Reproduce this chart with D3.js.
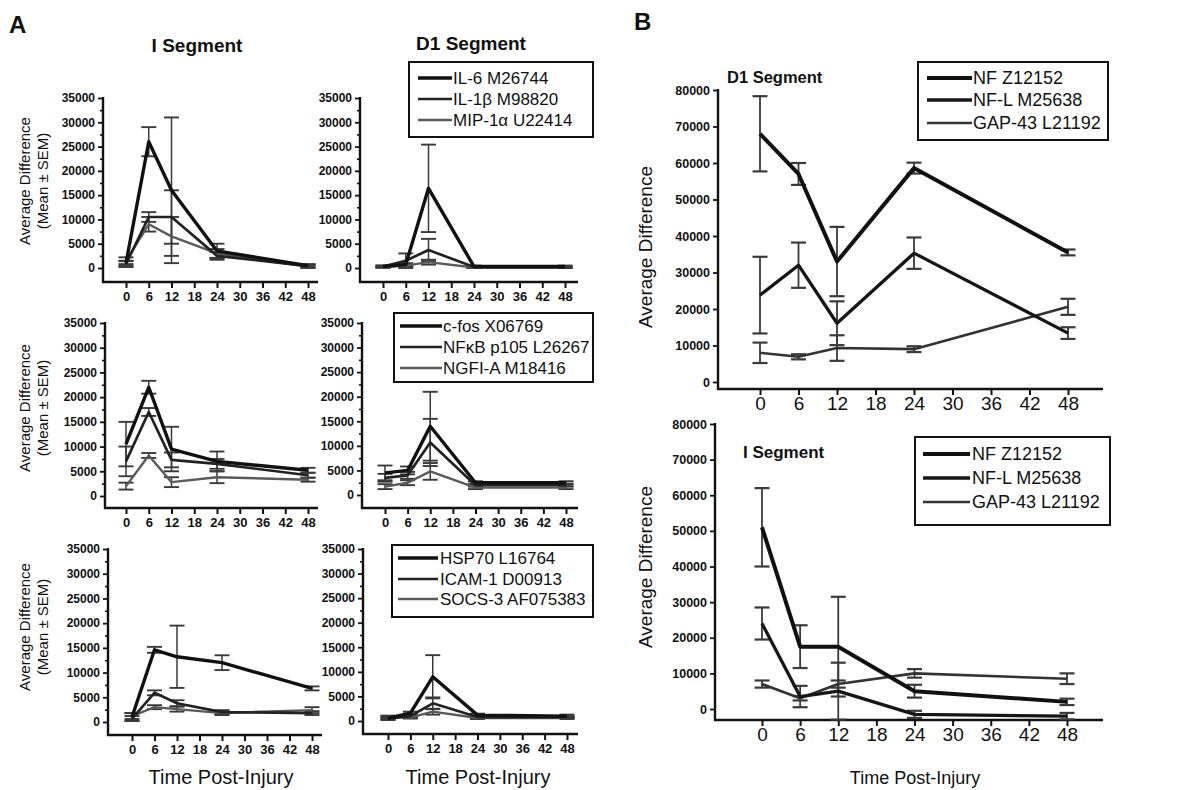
<!DOCTYPE html>
<html>
<head>
<meta charset="utf-8">
<script src="https://cdn.jsdelivr.net/npm/d3@7"></script>
<style>
  body { margin: 0; background: #fff; }
  text { font-family: Arial, "Liberation Sans", Helvetica, sans-serif; fill: #111; }
</style>
</head>
<body>
<svg id="fig"></svg>
<script>
// sampling times (h post-injury) and axis ticks
const times = [0, 6, 12, 24, 48];
const timeTicks = [0, 6, 12, 18, 24, 30, 36, 42, 48];
const aTicks = [0, 5000, 10000, 15000, 20000, 25000, 30000, 35000];
const aMinor = [2500, 7500, 12500, 17500, 22500, 27500, 32500];
const bTicks = [0, 10000, 20000, 30000, 40000, 50000, 60000, 70000, 80000];

// A - cytokines
const il6I = [1000, 26000, 16000, 3500, 500];
const il6ISem = [500, 3000, 15000, 1500, 300];
const il1bI = [800, 10500, 10500, 2500, 400];
const il1bISem = [600, 1000, 5500, 800, 300];
const mip1aI = [1500, 9000, 6500, 3000, 300];
const mip1aISem = [700, 1500, 4000, 900, 300];

const il6D1 = [300, 700, 16400, 300, 300];
const il6D1Sem = [200, 300, 9000, 200, 200];
const il1bD1 = [300, 1500, 3700, 200, 200];
const il1bD1Sem = [200, 1500, 2300, 200, 200];
const mip1aD1 = [200, 500, 1200, 100, 100];
const mip1aD1Sem = [100, 200, 500, 100, 100];

// A - transcription factors
const cfosI = [10500, 22000, 9500, 7000, 5200];
const cfosISem = [4500, 1300, 4500, 2000, 500];
const nfkbI = [7000, 17000, 7300, 6500, 4200];
const nfkbISem = [3000, 800, 1500, 1000, 500];
const ngfiaI = [2000, 8200, 2800, 3800, 3300];
const ngfiaISem = [700, 500, 1000, 1200, 400];

const cfosD1 = [4500, 5000, 14000, 2500, 2500];
const cfosD1Sem = [1500, 800, 7000, 300, 300];
const nfkbD1 = [3500, 4000, 10700, 2000, 2000];
const nfkbD1Sem = [800, 700, 4800, 300, 300];
const ngfiaD1 = [1700, 2500, 4800, 1500, 1500];
const ngfiaD1Sem = [500, 500, 1700, 300, 300];

// A - stress / adhesion
const hsp70I = [1000, 14600, 13200, 12000, 6800];
const hsp70ISem = [800, 600, 6300, 1500, 400];
const icam1I = [700, 5900, 3800, 2000, 1800];
const icam1ISem = [500, 500, 600, 400, 400];
const socs3I = [1200, 3000, 2600, 1800, 2400];
const socs3ISem = [600, 400, 500, 400, 600];

const hsp70D1 = [600, 1600, 9000, 1200, 1000];
const hsp70D1Sem = [300, 300, 4400, 300, 300];
const icam1D1 = [500, 1000, 3600, 800, 800];
const icam1D1Sem = [300, 300, 1200, 200, 200];
const socs3D1 = [800, 700, 1900, 600, 600];
const socs3D1Sem = [300, 200, 600, 200, 200];

// B - neuronal markers
const nfD1 = [68000, 57000, 33000, 58600, 35500];
const nfD1Sem = [10300, 3000, 9500, 1500, 800];
const nflD1 = [23800, 32000, 16100, 35300, 13400];
const nflD1Sem = [10500, 6200, 6000, 4300, 1600];
const gap43D1 = [8000, 6900, 9300, 9000, 20600];
const gap43D1Sem = [2800, 700, 3500, 800, 2200];

const nfI = [51000, 17500, 17500, 5000, 2000];
const nfISem = [11000, 6000, 14000, 1800, 900];
const nflI = [24000, 3500, 5000, -1500, -2000];
const nflISem = [4500, 3000, 8000, 1000, 900];
const gap43I = [7000, 3000, 7000, 10000, 8500];
const gap43ISem = [1000, 600, 1000, 1200, 1500];

const W = 1191, H = 790;
const svg = d3.select('#fig').attr('width', W).attr('height', H);
svg.append('rect').attr('width', W).attr('height', H).attr('fill', '#fff');

const styleA = [{c: '#111', w: 3.4}, {c: '#222', w: 2.7}, {c: '#5a5a5a', w: 2.4}];
const styleB = [{c: '#111', w: 4}, {c: '#161616', w: 3.3}, {c: '#333', w: 2.6}];

function drawPanel(p) {
    const g = svg.append('g');
    const x = d3.scaleLinear().domain([0, 48]).range([p.x0, p.x48]);
    const y = d3.scaleLinear().domain([0, p.yMax]).range([p.yZero, p.yTop]);

    // y axis
    const yAxisG = g.append('g')
        .attr('transform', `translate(${p.axisX},0)`)
        .call(d3.axisLeft(y).tickValues(p.yTicks).tickSize(5).tickPadding(3).tickFormat(d3.format('d')));
    yAxisG.select('.domain').remove();
    yAxisG.attr('font-size', p.yFont).attr('font-weight', 'bold');
    if (p.yMinor) {
        const m = g.append('g')
            .attr('transform', `translate(${p.axisX},0)`)
            .call(d3.axisLeft(y).tickValues(p.yMinor).tickSize(3).tickFormat(''));
        m.select('.domain').remove();
        m.selectAll('line').attr('stroke', '#111').attr('stroke-width', 1.6);
    }
    yAxisG.selectAll('line').attr('stroke', '#111').attr('stroke-width', 1.8);
    g.append('line')
        .attr('x1', p.axisX).attr('x2', p.axisX)
        .attr('y1', p.yTop - 1).attr('y2', p.axisY + 1)
        .attr('stroke', '#111').attr('stroke-width', 2.4);

    // x axis
    const xAxisG = g.append('g')
        .attr('transform', `translate(0,${p.axisY})`)
        .call(d3.axisBottom(x).tickValues(timeTicks).tickSize(6).tickPadding(p.xPad));
    xAxisG.select('.domain').remove();
    xAxisG.attr('font-size', p.xFont).attr('font-weight', p.xWeight);
    xAxisG.selectAll('line').attr('stroke', '#111').attr('stroke-width', 2);
    g.append('line')
        .attr('x1', p.axisX - 1).attr('x2', p.xEnd)
        .attr('y1', p.axisY).attr('y2', p.axisY)
        .attr('stroke', '#111').attr('stroke-width', 2.4);

    // error bars, then lines
    const line = d3.line().x(d => x(d.t)).y(d => y(d.v));
    p.series.forEach(s => {
        const pts = times.map((t, i) => ({t: t, v: s.values[i], e: s.sem[i]}));
        const eb = g.append('g').attr('stroke', '#3a3a3a').attr('stroke-width', p.ebW);
        pts.forEach(d => {
            const cx = x(d.t);
            eb.append('line').attr('x1', cx).attr('x2', cx)
                .attr('y1', y(d.v - d.e)).attr('y2', y(d.v + d.e));
            [d.v - d.e, d.v + d.e].forEach(v => {
                eb.append('line').attr('x1', cx - p.cap / 2).attr('x2', cx + p.cap / 2)
                    .attr('y1', y(v)).attr('y2', y(v)).attr('stroke-width', p.ebW + 0.4);
            });
        });
    });
    p.series.slice().reverse().forEach((s, k) => {
        const st = p.styles[p.series.length - 1 - k];
        g.append('path')
            .datum(times.map((t, i) => ({t: t, v: s.values[i]})))
            .attr('d', line)
            .attr('fill', 'none')
            .attr('stroke', st.c)
            .attr('stroke-width', st.w)
            .attr('stroke-linejoin', 'round');
    });

    // legend
    if (p.legend) {
        const L = p.legend;
        g.append('rect')
            .attr('x', L.x1).attr('y', L.y1)
            .attr('width', L.x2 - L.x1).attr('height', L.y2 - L.y1)
            .attr('fill', '#fff').attr('stroke', '#111').attr('stroke-width', 2);
        p.series.forEach((s, i) => {
            const st = p.styles[i];
            g.append('line')
                .attr('x1', L.lx1).attr('x2', L.lx2)
                .attr('y1', L.rows[i]).attr('y2', L.rows[i])
                .attr('stroke', st.c).attr('stroke-width', st.w);
            g.append('text')
                .attr('x', L.tx).attr('y', L.rows[i])
                .attr('dy', '0.36em')
                .attr('font-size', L.font)
                .text(s.name);
        });
    }

    // title
    if (p.title) {
        g.append('text')
            .attr('x', p.title.x).attr('y', p.title.y)
            .attr('text-anchor', p.title.anchor)
            .attr('font-size', p.title.size)
            .attr('font-weight', 'bold')
            .text(p.title.text);
    }
}

const ser = (name, values, sem) => ({name, values, sem});

const aBase = {yMax: 35000, yTicks: aTicks, yMinor: aMinor, yFont: 12, xFont: 13, xWeight: 'bold', xPad: 4,
               styles: styleA, cap: 15, ebW: 1.5};
const bBase = {yMax: 80000, yTicks: bTicks, yMinor: null, yFont: 12.5, xFont: 19, xWeight: 'normal', xPad: 2,
               styles: styleB, cap: 15, ebW: 1.8};

const cyto = (a, b, c) => [ser('IL-6 M26744', ...a), ser('IL-1\u03b2 M98820', ...b), ser('MIP-1\u03b1 U22414', ...c)];
const tf = (a, b, c) => [ser('c-fos  X06769', ...a), ser('NF\u03baB p105 L26267', ...b), ser('NGFI-A M18416', ...c)];
const stress = (a, b, c) => [ser('HSP70 L16764', ...a), ser('ICAM-1 D00913', ...b), ser('SOCS-3 AF075383', ...c)];
const neuro = (a, b, c) => [ser('NF Z12152', ...a), ser('NF-L M25638', ...b), ser('GAP-43 L21192', ...c)];

const panels = [
    Object.assign({}, aBase, {axisX: 103, x0: 126, x48: 308, yZero: 268, yTop: 98, axisY: 282, xEnd: 318,
        series: cyto([il6I, il6ISem], [il1bI, il1bISem], [mip1aI, mip1aISem]),
        title: {text: 'I Segment', x: 197, y: 52, anchor: 'middle', size: 19}}),
    Object.assign({}, aBase, {axisX: 360, x0: 383, x48: 565, yZero: 268, yTop: 98, axisY: 282, xEnd: 578,
        series: cyto([il6D1, il6D1Sem], [il1bD1, il1bD1Sem], [mip1aD1, mip1aD1Sem]),
        title: {text: 'D1 Segment', x: 471, y: 50, anchor: 'middle', size: 19},
        legend: {x1: 409, y1: 62, x2: 593, y2: 137, lx1: 418, lx2: 452, tx: 453, rows: [78, 99, 120], font: 17}}),
    Object.assign({}, aBase, {axisX: 105, x0: 126, x48: 308, yZero: 496, yTop: 323, axisY: 508, xEnd: 318,
        series: tf([cfosI, cfosISem], [nfkbI, nfkbISem], [ngfiaI, ngfiaISem])}),
    Object.assign({}, aBase, {axisX: 362, x0: 385, x48: 566, yZero: 495, yTop: 323, axisY: 508, xEnd: 578,
        series: tf([cfosD1, cfosD1Sem], [nfkbD1, nfkbD1Sem], [ngfiaD1, ngfiaD1Sem]),
        legend: {x1: 394, y1: 313, x2: 593, y2: 382, lx1: 400, lx2: 442, tx: 443, rows: [326, 347, 368], font: 17}}),
    Object.assign({}, aBase, {axisX: 108, x0: 132, x48: 312, yZero: 722, yTop: 549, axisY: 735, xEnd: 322,
        series: stress([hsp70I, hsp70ISem], [icam1I, icam1ISem], [socs3I, socs3ISem])}),
    Object.assign({}, aBase, {axisX: 363, x0: 388, x48: 567, yZero: 721, yTop: 549, axisY: 734, xEnd: 578,
        series: stress([hsp70D1, hsp70D1Sem], [icam1D1, icam1D1Sem], [socs3D1, socs3D1Sem]),
        legend: {x1: 392, y1: 545, x2: 593, y2: 617, lx1: 398, lx2: 438, tx: 440, rows: [558, 579, 599], font: 17}}),
    Object.assign({}, bBase, {axisX: 718, x0: 760, x48: 1068, yZero: 382, yTop: 90, axisY: 389, xEnd: 1103,
        series: neuro([nfD1, nfD1Sem], [nflD1, nflD1Sem], [gap43D1, gap43D1Sem]),
        title: {text: 'D1 Segment', x: 727, y: 83, anchor: 'start', size: 16.5},
        legend: {x1: 918, y1: 62, x2: 1108, y2: 140, lx1: 927, lx2: 972, tx: 973, rows: [78, 100, 123], font: 18}}),
    Object.assign({}, bBase, {axisX: 715, x0: 762, x48: 1067, yZero: 709, yTop: 424, axisY: 720, xEnd: 1103,
        series: neuro([nfI, nfISem], [nflI, nflISem], [gap43I, gap43ISem]),
        title: {text: 'I Segment', x: 743, y: 458, anchor: 'start', size: 17},
        legend: {x1: 915, y1: 437, x2: 1110, y2: 525, lx1: 923, lx2: 970, tx: 972, rows: [454, 478, 502], font: 18}})
];

panels.forEach(drawPanel);

// panel letters
svg.append('text').attr('x', 9).attr('y', 33).attr('font-size', 24).attr('font-weight', 'bold').text('A');
svg.append('text').attr('x', 634).attr('y', 30).attr('font-size', 24).attr('font-weight', 'bold').text('B');

// y axis titles, panel A
[181, 408, 627].forEach(cy => {
    svg.append('text')
        .attr('transform', `translate(30,${cy}) rotate(-90)`)
        .attr('text-anchor', 'middle').attr('font-size', 15)
        .text('Average Difference');
    svg.append('text')
        .attr('transform', `translate(48,${cy}) rotate(-90)`)
        .attr('text-anchor', 'middle').attr('font-size', 15)
        .text('(Mean \u00b1 SEM)');
});
// y axis titles, panel B
[247, 567].forEach(cy => {
    svg.append('text')
        .attr('transform', `translate(652,${cy}) rotate(-90)`)
        .attr('text-anchor', 'middle').attr('font-size', 19)
        .text('Average Difference');
});

// x axis titles
[[221, 20], [478, 20], [915, 18]].forEach(([cx, fs]) => {
    svg.append('text')
        .attr('x', cx).attr('y', 784)
        .attr('text-anchor', 'middle').attr('font-size', fs)
        .text('Time Post-Injury');
});
</script>
</body>
</html>
